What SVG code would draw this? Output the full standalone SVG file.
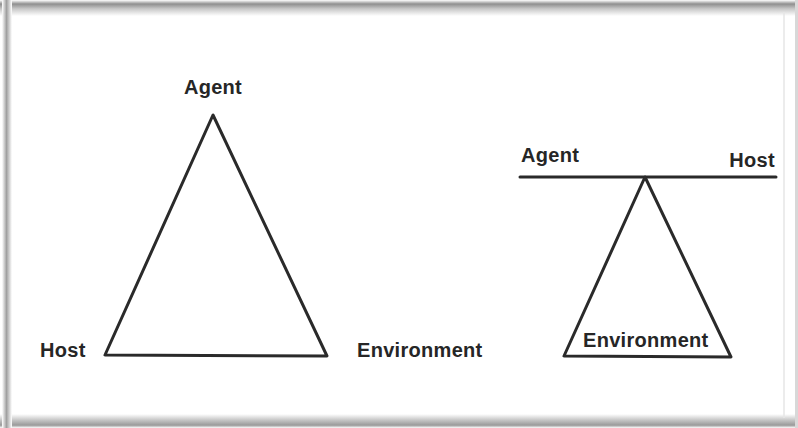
<svg xmlns="http://www.w3.org/2000/svg" width="798" height="428" viewBox="0 0 798 428">
  <defs>
    <linearGradient id="topShade" x1="0" y1="0" x2="0" y2="1">
      <stop offset="0" stop-color="#ffffff"/>
      <stop offset="0.25" stop-color="#8f8f8f"/>
      <stop offset="0.55" stop-color="#c8c8c8"/>
      <stop offset="1" stop-color="#ffffff"/>
    </linearGradient>
    <linearGradient id="bottomShade" x1="0" y1="0" x2="0" y2="1">
      <stop offset="0" stop-color="#ffffff"/>
      <stop offset="0.5" stop-color="#bdbdbd"/>
      <stop offset="0.8" stop-color="#9a9a9a"/>
      <stop offset="1" stop-color="#ffffff"/>
    </linearGradient>
    <linearGradient id="leftShade" x1="0" y1="0" x2="1" y2="0">
      <stop offset="0" stop-color="#ffffff"/>
      <stop offset="0.45" stop-color="#a0a0a0"/>
      <stop offset="1" stop-color="#ffffff"/>
    </linearGradient>
  </defs>
  <style>
    .edge { fill: none; stroke: #2a2a2a; stroke-width: 3; stroke-linejoin: round; stroke-linecap: round; }
    .lbl { font-family: "Liberation Sans", Arial, sans-serif; font-size: 20px; font-weight: bold; letter-spacing: 0.3px; fill: #262626; }
  </style>
  <rect x="0" y="0" width="798" height="428" fill="#ffffff"/>
  <!-- photo frame shading -->
  <rect x="0" y="0" width="798" height="16" fill="url(#topShade)"/>
  <rect x="0" y="414" width="798" height="14" fill="url(#bottomShade)"/>
  <rect x="2" y="0" width="10" height="428" fill="url(#leftShade)"/>
  <line x1="784" y1="12" x2="784" y2="418" stroke="#e6e6e6" stroke-width="1.5"/>
  <rect x="795" y="0" width="3" height="428" fill="#d8d8d8"/>

  <g id="left-triangle">
    <polygon class="edge" points="213,115 105,355 327,356"/>
  </g>
  <g id="left-agent">
    <text class="lbl" x="213" y="94" text-anchor="middle">Agent</text>
  </g>
  <g id="left-host">
    <text class="lbl" x="40" y="357">Host</text>
  </g>
  <g id="left-environment">
    <text class="lbl" x="357" y="357">Environment</text>
  </g>

  <g id="connectors">
    <line class="edge" x1="520" y1="177" x2="776" y2="177"/>
  </g>
  <g id="right-triangle">
    <polygon class="edge" points="645,177 564,356 731,357"/>
  </g>
  <g id="right-agent">
    <text class="lbl" x="521" y="162">Agent</text>
  </g>
  <g id="right-host">
    <text class="lbl" x="775" y="167" text-anchor="end">Host</text>
  </g>
  <g id="right-environment">
    <text class="lbl" x="583" y="347">Environment</text>
  </g>
</svg>
